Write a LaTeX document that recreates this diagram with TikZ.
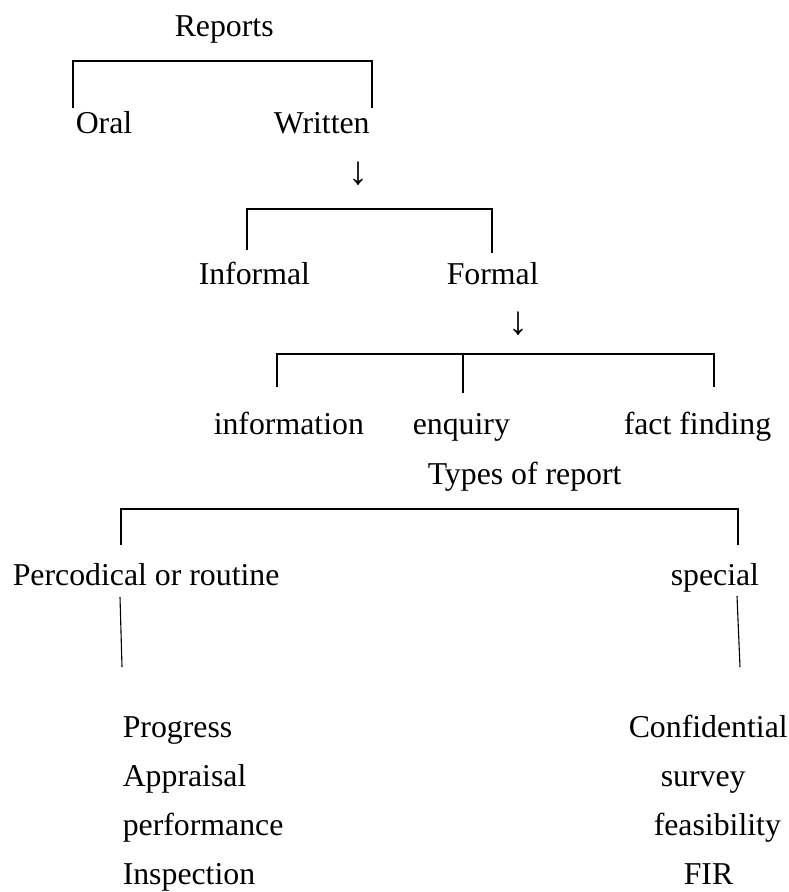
\documentclass[tikz,border=0pt]{standalone}
\usepackage{fontspec}
\setmainfont{Liberation Serif}
\begin{document}
\begin{tikzpicture}[x=1pt,y=-1pt,line width=1.5pt,
    txt/.style={font=\fontsize{31.8}{36}\selectfont,inner sep=0pt,anchor=base west},
    arr/.style={font=\fontsize{40}{44}\selectfont,inner sep=0pt,anchor=base}]
  \useasboundingbox (0,0) rectangle (788,892);

  % Reports -> Oral / Written
  \node[txt] (reports) at (174,36) {Reports};
  \node[txt] (oral) at (75,133) {Oral};
  \node[txt] (written) at (273,133) {Written};
  \coordinate (bar1) at (222,61);
  \coordinate (oralfoot) at (73,108);
  \coordinate (writfoot) at (372,108);
  \draw (oralfoot) |- (bar1) -| (writfoot);

  \node[arr] (down1) at (358,184) {↓};

  % Written -> Informal / Formal
  \node[txt] (informal) at (198,284) {Informal};
  \node[txt] (formal) at (446,284) {Formal};
  \coordinate (bar2) at (370,209);
  \coordinate (infofoot) at (247,250);
  \coordinate (formfoot) at (492,253);
  \draw (infofoot) |- (bar2) -| (formfoot);

  \node[arr] (down2) at (518,334) {↓};

  % Formal -> information / enquiry / fact finding
  \node[txt] (information) at (213,434) {information};
  \node[txt] (enquiry) at (412,434) {enquiry};
  \node[txt] (fact) at (623,434) {fact finding};
  \coordinate (bar3) at (463,354);
  \coordinate (informfoot) at (277,387);
  \coordinate (enqfoot) at (463,393);
  \coordinate (factfoot) at (714,387);
  \draw (informfoot) |- (bar3) -| (factfoot);
  \draw (bar3) -- (enqfoot);

  % Types of report
  \node[txt] (types) at (427,484) {Types of report};
  \node[txt] (routine) at (12,585) {Percodical or routine};
  \node[txt] (special) at (670,585) {special};
  \coordinate (bar4) at (430,509);
  \coordinate (routfoot) at (121,545);
  \coordinate (specfoot) at (738,545);
  \draw (routfoot) |- (bar4) -| (specfoot);

  % lines down to the lists
  \coordinate (routtop) at (120,597);
  \coordinate (routend) at (122,667);
  \coordinate (spectop) at (737,596);
  \coordinate (specend) at (740,667);
  \draw[line width=1.1pt] (routtop) -- (routend);
  \draw[line width=1.1pt] (spectop) -- (specend);

  % left list
  \node[txt] (progress) at (122,737) {Progress};
  \node[txt] (appraisal) at (122,786) {Appraisal};
  \node[txt] (performance) at (122,835) {performance};
  \node[txt] (inspection) at (122,884) {Inspection};

  % right list
  \node[txt] (confidential) at (628,737) {Confidential};
  \node[txt] (survey) at (660,786) {survey};
  \node[txt] (feasibility) at (653,835) {feasibility};
  \node[txt] (fir) at (683,884) {FIR};
\end{tikzpicture}
\end{document}
